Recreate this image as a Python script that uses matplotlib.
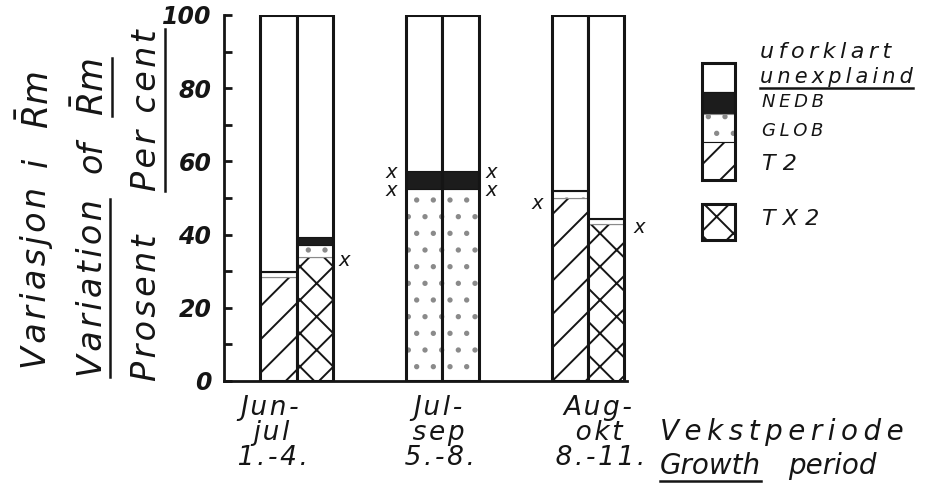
import numpy as np
import matplotlib.pyplot as plt
from matplotlib.patches import Rectangle

plt.rcParams['hatch.linewidth'] = 1.4
plt.rcParams['mathtext.fontset'] = 'dejavusans'
ink = '#151515'
dot = '#8a8a8a'

# ---- data (per cent of variation) ----
periods = ['Jun-\njul\n1.-4.', 'Jul-\nsep\n5.-8.', 'Aug-\nokt\n8.-11.']
t2 = [28.5, 0, 50]          # left bars
tx2 = [34, 0, 43]           # right bars
glob_left = [1.2, 52.5, 1.8]
glob_right = [3.2, 52.5, 1.2]
nedb_left = [0.3, 5, 0.4]
nedb_right = [2.2, 5, 0.3]

# little "x" marks drawn beside the bars
mark_x = [3.3, 4.6, 4.6, 7.35, 7.35, 8.6, 11.4]
mark_y = [33, 57, 52, 57, 52, 48.5, 42]

centers = np.array([2, 6, 10])


def spaced(s, sp='\u2009'):
    return sp.join(s)


fig = plt.figure(figsize=(9.25, 4.92), dpi=100)
ax = fig.add_axes([224/925, 111/492, 403/925, 366/492])


def stack(xpos, base, glob, nedb, hatch):
    base = np.array(base); glob = np.array(glob); nedb = np.array(nedb)
    rest = 100 - base - glob - nedb
    ax.bar(xpos, base, width=1, color='white', edgecolor=ink, lw=0.8, hatch=hatch)
    ax.bar(xpos, glob, width=1, bottom=base, color='white', edgecolor=dot, lw=0.8, hatch='.')
    ax.bar(xpos, nedb, width=1, bottom=base + glob, color='#1c1c1c', edgecolor=ink, lw=0.8)
    ax.bar(xpos, rest, width=1, bottom=base + glob + nedb, color='white', edgecolor=ink, lw=0.8)
    ax.bar(xpos, 100, width=1, fill=False, edgecolor=ink, lw=2.2)


stack(centers - 0.5, t2, glob_left, nedb_left, '/')
stack(centers + 0.5, tx2, glob_right, nedb_right, 'x')

for mx, my in zip(mark_x, mark_y):
    ax.text(mx, my, 'x', ha='center', va='center', fontsize=14, style='italic',
            color=ink, clip_on=False)

ax.set_xlim(0, 11.07)
ax.set_ylim(0, 100)
for s in ['top', 'right']:
    ax.spines[s].set_visible(False)
for s in ['left', 'bottom']:
    ax.spines[s].set_linewidth(2)
    ax.spines[s].set_color(ink)

ax.set_yticks(range(0, 101, 20))
ax.set_yticklabels(['0', '20', '40', '60', '80', '100'], fontsize=17,
                   style='italic', fontweight='bold', color=ink)
ax.set_yticks(range(10, 100, 20), minor=True)
ax.tick_params(axis='y', which='both', direction='in', length=6, width=2, color=ink, pad=9)

ax.set_xticks(centers - [0.7, 0.1, -0.3])
ax.set_xticklabels([spaced(p, '\u200a') for p in periods], fontsize=19, style='italic',
                   color=ink, linespacing=0.95)
ax.tick_params(axis='x', length=0, pad=10)

# ---- overlay in pixel coords for legend and titles ----
ov = fig.add_axes([0, 0, 1, 1], facecolor='none')
ov.set_xlim(0, 925)
ov.set_ylim(492, 0)
ov.axis('off')

# legend column
legend_parts = [(63, 92, 'white', None, ink), (92, 114, '#1c1c1c', None, ink),
                (114, 142, 'white', '.', dot), (142, 180, 'white', '/', ink)]
for y0, y1, fc, h, ec in legend_parts:
    ov.add_patch(Rectangle((702, y0), 33, y1 - y0, facecolor=fc, edgecolor=ec,
                           lw=0.8, hatch=h))
ov.add_patch(Rectangle((702, 63), 33, 117, fill=False, edgecolor=ink, lw=2.2))
ov.add_patch(Rectangle((702, 204), 33, 36, facecolor='white', edgecolor=ink,
                       lw=2.2, hatch='x'))

lt = dict(style='italic', color=ink, va='center', ha='left')
ov.text(760, 52, spaced('uforklart'), fontsize=16, **lt)
t_unex = ov.text(760, 77, spaced('unexplaind'), fontsize=15, **lt)
ov.text(762, 102, spaced('NEDB'), fontsize=13, **lt)
ov.text(762, 131, spaced('GLOB'), fontsize=13, **lt)
ov.text(762, 164, 'T 2', fontsize=16, **lt)
ov.text(762, 219, 'T X 2', fontsize=16, **lt)

ov.text(660, 432, spaced('Vekstperiode'), fontsize=20, **lt)
t_grow = ov.text(660, 466, 'Growth', fontsize=20, **lt)
ov.text(788, 466, 'period', fontsize=20, **lt)

hs = '\u200a'
yl = dict(style='italic', color=ink, rotation=90, ha='center', va='center')
ov.text(37, 278, spaced('Variasjon', hs), fontsize=24, **yl)
ov.text(37, 162, 'i', fontsize=24, **yl)
ov.text(37, 100, r'$\bar{R}m$', fontsize=25, **yl)
t_var = ov.text(92, 288, spaced('Variation', hs), fontsize=24, **yl)
ov.text(92, 157, 'of', fontsize=24, **yl)
t_rm = ov.text(92, 87, r'$\bar{R}m$', fontsize=25, **yl)
ov.text(147, 308, spaced('Prosent', hs), fontsize=24, **yl)
t_pc = ov.text(147, 110, spaced('Per cent', hs), fontsize=24, **yl)

# underlines from the text extents
fig.canvas.draw()
r = fig.canvas.get_renderer()
inv = ov.transData.inverted()
for t in [t_unex, t_grow]:
    bb = t.get_window_extent(r)
    (x0, y0), (x1, y1) = inv.transform([[bb.x0, bb.y0], [bb.x1, bb.y1]])
    ov.plot([x0, x1], [y0 + 1, y0 + 1], color=ink, lw=1.8)
for t in [t_var, t_rm, t_pc]:
    bb = t.get_window_extent(r)
    (x0, y0), (x1, y1) = inv.transform([[bb.x0, bb.y0], [bb.x1, bb.y1]])
    ov.plot([x1 + 1, x1 + 1], [y0, y1], color=ink, lw=1.8)

fig.savefig('out.png', dpi=100, facecolor='white')
